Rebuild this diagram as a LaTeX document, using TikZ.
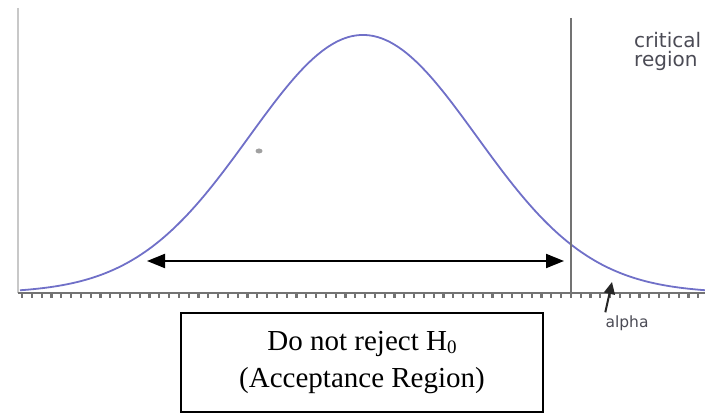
\documentclass[tikz,border=0pt]{standalone}
\usepackage{fontspec}
\setmainfont{Liberation Serif}
\newfontfamily\labelfont{DejaVu Sans}
\usepackage{tikz}
\usetikzlibrary{arrows.meta, positioning, calc}

\begin{document}
\begin{tikzpicture}[x=1pt, y=-1pt]

\definecolor{curveblue}{RGB}{112, 112, 200}
\definecolor{axisgray}{RGB}{115, 115, 115}
\definecolor{lightaxis}{RGB}{200, 200, 200}
\definecolor{labelgray}{RGB}{75, 75, 85}

\useasboundingbox (0,0) rectangle (705,414);

% Axes
\draw[lightaxis, line width=2.5pt] (18,8) -- (18,293);
\draw[axisgray, line width=2pt] (18,293) -- (705,293);
\foreach \t in {0,...,70}
  \draw[axisgray, line width=2.2pt] ({22+9.8*\t},293) -- ({22+9.8*\t},298.5);

% Normal curve
\draw[curveblue, line width=1.8pt, smooth, domain=20:705, samples=160]
  plot (\x, {293-258*exp(-((\x-363)/100)^2/2.5876)});

% Critical value line
\coordinate (critTop) at (571,18);
\coordinate (critBot) at (571,293);
\draw[axisgray, line width=2.6pt] (critTop) -- (critBot);
\node[font=\labelfont\fontsize{20}{19}\selectfont, text=labelgray,
      align=left, anchor=north west, inner sep=0pt] (crit) at (634,32) {critical\\region};

% Stray dot
\fill[lightaxis!80!black] (259,151) ellipse (3.5 and 2.5);

% Acceptance arrow
\coordinate (accL) at (147,261);
\coordinate (accR) at (564,261);
\draw[{Triangle[length=18pt, width=14pt]}-{Triangle[length=18pt, width=14pt]}, line width=2pt]
  (accL) -- (accR);

% Alpha
\node[font=\labelfont\fontsize{15.5}{17}\selectfont, text=labelgray, inner sep=0pt]
  (alpha) at (627,323) {alpha};
\coordinate (alphaTip) at (612,282);
\draw[-{Triangle[length=12pt, width=11pt]}, line width=2pt, black!85]
  ($(alpha.north west)+(0,-3)$) -- (alphaTip);

% Box
\node[draw, line width=1.8pt, minimum width=362, minimum height=99, align=center,
      font=\fontsize{29}{37}\selectfont, inner sep=0pt] (accept) at (362,362.5)
  {Do not reject H\raisebox{-0.12em}{\fontsize{19}{19}\selectfont 0}\\(Acceptance Region)};

\end{tikzpicture}
\end{document}
